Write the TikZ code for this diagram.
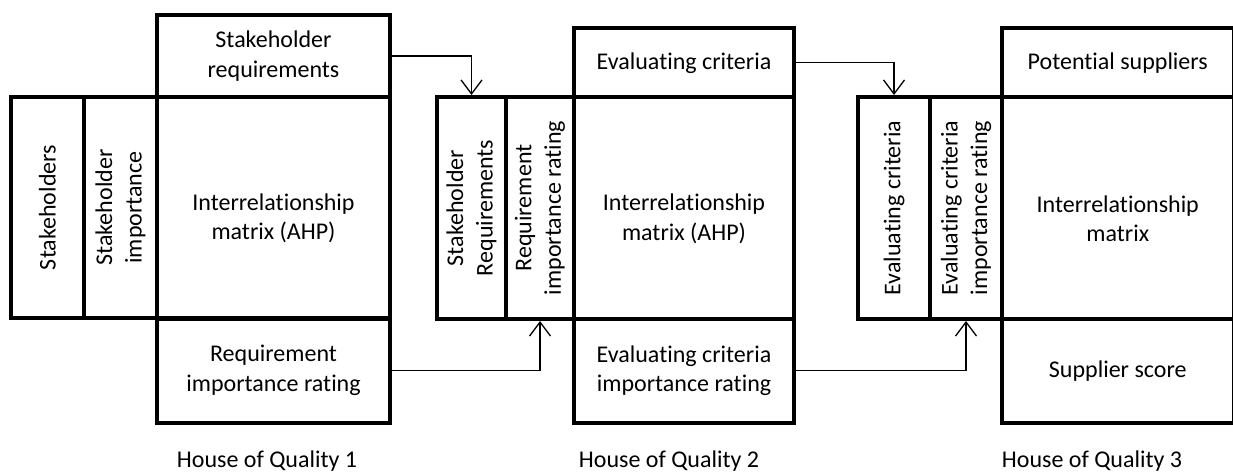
\documentclass[tikz,border=0pt]{standalone}
\usepackage{fontspec}
\setmainfont[Ligatures={NoCommon,NoRare,NoDiscretionary}]{Carlito}
\usetikzlibrary{arrows.meta}
\begin{document}
\begin{tikzpicture}[x=1pt,y=-1pt,
  box/.style={draw, line width=4pt, inner sep=0pt, align=center, font=\fontsize{24}{29.5}\selectfont},
  txt/.style={inner sep=0pt, align=center, font=\fontsize{24}{29.5}\selectfont},
  rtxt/.style={txt, rotate=90},
  conn/.style={line width=1.3pt, -{Straight Barb[length=14pt,width=21pt,line width=1.3pt]}},
  housecap/.style={inner sep=0pt, anchor=base, font=\fontsize{24}{29.5}\selectfont}]
\useasboundingbox (0,0) rectangle (1233,473);
% ---------------- House 1
\node[box, minimum width=73, minimum height=221] (stk1) at (47.5,207.5) {};
\node[box, minimum width=73, minimum height=221] (imp1) at (120.5,207.5) {};
\node[box, minimum width=233, minimum height=82] (top1) at (273.5,56) {Stakeholder\\requirements};
\node[box, minimum width=233, minimum height=221] (mat1) at (273.5,207.5) {};
\node[box, minimum width=233, minimum height=104] (bot1) at (273.5,370.5) {Requirement\\importance rating};
\node[rtxt] (stk1t) at (stk1.center) {Stakeholders};
\node[rtxt] (imp1t) at (imp1.center) {Stakeholder\\importance};
\node[txt] (mat1t) at ([yshift=-11pt]mat1.center) {Interrelationship\\matrix (AHP)};
\node[housecap] (h1) at (267,467.5) {House of Quality 1};
% ---------------- House 2
\node[box, minimum width=69, minimum height=222] (sr2) at (471.5,208) {};
\node[box, minimum width=68, minimum height=222] (ri2) at (540,208) {};
\node[box, minimum width=220, minimum height=68.5] (top2) at (684,62.75) {Evaluating criteria};
\node[box, minimum width=220, minimum height=222] (mat2) at (684,208) {};
\node[box, minimum width=220, minimum height=103.5] (bot2) at (684,370.75) {Evaluating criteria\\importance rating};
\node[rtxt] (sr2t) at (sr2.center) {Stakeholder\\Requirements};
\node[rtxt] (ri2t) at (ri2.center) {Requirement\\importance rating};
\node[txt] (mat2t) at ([yshift=-11pt]mat2.center) {Interrelationship\\matrix (AHP)};
\node[housecap] (h2) at (669,467.5) {House of Quality 2};
% ---------------- House 3
\node[box, minimum width=72, minimum height=222] (ec3) at (894,208) {};
\node[box, minimum width=72, minimum height=222] (eci3) at (966,208) {};
\node[box, minimum width=231.5, minimum height=68.5] (top3) at (1117.75,62.75) {Potential suppliers};
\node[box, minimum width=231.5, minimum height=222] (mat3) at (1117.75,208) {};
\node[box, minimum width=231.5, minimum height=103.5] (bot3) at (1117.75,370.75) {Supplier score};
\node[rtxt] (ec3t) at (ec3.center) {Evaluating criteria};
\node[rtxt] (eci3t) at (eci3.center) {Evaluating criteria\\importance rating};
\node[txt] (mat3t) at ([yshift=-11pt]mat3.center) {Interrelationship\\matrix};
\node[housecap] (h3) at (1092,467.5) {House of Quality 3};
% ---------------- connectors
\draw[conn] (top1.east) -| (sr2.north);
\draw[conn] (bot1.east) -| (ri2.south);
\draw[conn] (top2.east) -| (ec3.north);
\draw[conn] (bot2.east) -| (eci3.south);
\end{tikzpicture}
\end{document}
